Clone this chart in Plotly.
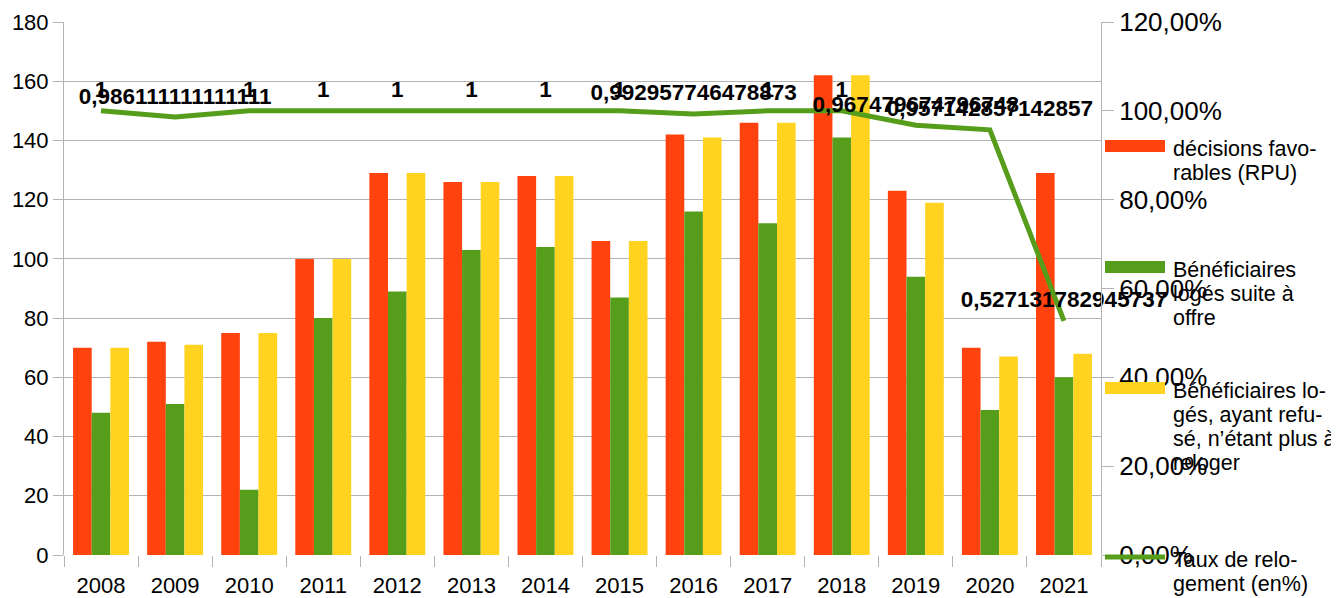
import plotly.graph_objects as go

years = ["2008", "2009", "2010", "2011", "2012", "2013", "2014",
         "2015", "2016", "2017", "2018", "2019", "2020", "2021"]
decisions = [70, 72, 75, 100, 129, 126, 128, 106, 142, 146, 162, 123, 70, 129]
loges_offre = [48, 51, 22, 80, 89, 103, 104, 87, 116, 112, 141, 94, 49, 60]
loges_refus = [70, 71, 75, 100, 129, 126, 128, 106, 141, 146, 162, 119, 67, 68]
taux = [1, 0.986111111111111, 1, 1, 1, 1, 1, 1, 0.992957746478873, 1, 1,
        0.967479674796748, 0.957142857142857, 0.527131782945737]
left_ticks = [0, 20, 40, 60, 80, 100, 120, 140, 160, 180]
right_ticks = [0, 0.2, 0.4, 0.6, 0.8, 1.0, 1.2]

legend_labels = [
    ["décisions favo-", "rables (RPU)"],
    ["Bénéficiaires", "logés suite à", "offre"],
    ["Bénéficiaires lo-", "gés, ayant refu-", "sé, n’étant plus à", "reloger"],
    ["Taux de relo-", "gement (en%)"],
]

RED = "#ff420e"
GREEN = "#579d1c"
YELLOW = "#ffd320"
GRID = "#b3b3b3"
FONT = "Liberation Sans"

def fmt(v):
    if v == int(v):
        return str(int(v))
    return repr(v).replace(".", ",")

fig = go.Figure()
fig.add_trace(go.Bar(x=years, y=decisions, marker=dict(color=RED, line=dict(width=0)),
                     name="décisions favorables (RPU)"))
fig.add_trace(go.Bar(x=years, y=loges_offre, marker=dict(color=GREEN, line=dict(width=0)),
                     name="Bénéficiaires logés suite à offre"))
fig.add_trace(go.Bar(x=years, y=loges_refus, marker=dict(color=YELLOW, line=dict(width=0)),
                     name="Bénéficiaires logés, ayant refusé, n’étant plus à reloger"))
fig.add_trace(go.Scatter(x=years, y=taux, yaxis="y2", mode="lines+markers+text",
                         line=dict(color=GREEN, width=5),
                         marker=dict(size=11, color="rgba(0,0,0,0)", line=dict(width=0)),
                         text=[fmt(v) for v in taux], textposition="top center",
                         textfont=dict(family=FONT, size=22.5, color="black", weight="bold"),
                         cliponaxis=False, name="Taux de relogement (en%)"))

# page body has an 8px default margin
OFF = 8
L, R, T, B = 56, 246, 14, 51
W, H = 1339, 598
pw, ph = W - L - R, H - T - B

def px_x(px):
    return (px - OFF - L) / pw

def px_y(py):
    return (OFF + H - B - py) / ph

shapes = []
annotations = []
sw_colors = [RED, GREEN, YELLOW, GREEN]
sw_centers = [146, 267, 388, 557]
sw_heights = [12, 12, 12, 5]
for lines, col, cy, hh in zip(legend_labels, sw_colors, sw_centers, sw_heights):
    shapes.append(dict(type="rect", xref="paper", yref="paper",
                       x0=px_x(1105), x1=px_x(1165),
                       y0=px_y(cy + hh / 2), y1=px_y(cy - hh / 2),
                       fillcolor=col, line=dict(width=0)))
    for i, t in enumerate(lines):
        annotations.append(dict(xref="paper", yref="paper", x=px_x(1171),
                                y=px_y(cy + 3 + i * 24), text=t, showarrow=False,
                                xanchor="left", yanchor="middle",
                                font=dict(family=FONT, size=21.5, color="black")))

fig.update_layout(
    width=W, height=H,
    margin=dict(l=L, r=R, t=T, b=B, autoexpand=False),
    paper_bgcolor="white", plot_bgcolor="white",
    separators=", ",
    barmode="group", bargap=0.245, bargroupgap=0,
    showlegend=False,
    font=dict(family=FONT, size=22, color="black"),
    xaxis=dict(type="category", range=[-0.5, len(years) - 0.5], showgrid=False,
               showline=False, automargin=False, ticklabeloverflow="allow",
               ticks="outside", tickson="boundaries", ticklen=11, tickcolor=GRID,
               ticklabelstandoff=15,
               tickfont=dict(family=FONT, size=22, color="black"), zeroline=False),
    yaxis=dict(range=[0, 180], tickvals=left_ticks, showgrid=True, gridcolor=GRID,
               gridwidth=1, showline=True, linecolor=GRID, linewidth=1, automargin=False,
               ticklabeloverflow="allow",
               ticks="outside", ticklen=10, tickcolor=GRID, zeroline=False,
               tickfont=dict(family=FONT, size=22, color="black")),
    yaxis2=dict(range=[0, 1.2], tickvals=right_ticks, tickformat=".2%",
                overlaying="y", side="right", showgrid=False, showline=True,
                linecolor=GRID, linewidth=1, ticks="outside", ticklen=12,
                tickcolor=GRID, zeroline=False, automargin=False,
                ticklabeloverflow="allow",
                tickfont=dict(family=FONT, size=26, color="black")),
    shapes=shapes,
    annotations=annotations,
)

fig.write_html("out.html")
